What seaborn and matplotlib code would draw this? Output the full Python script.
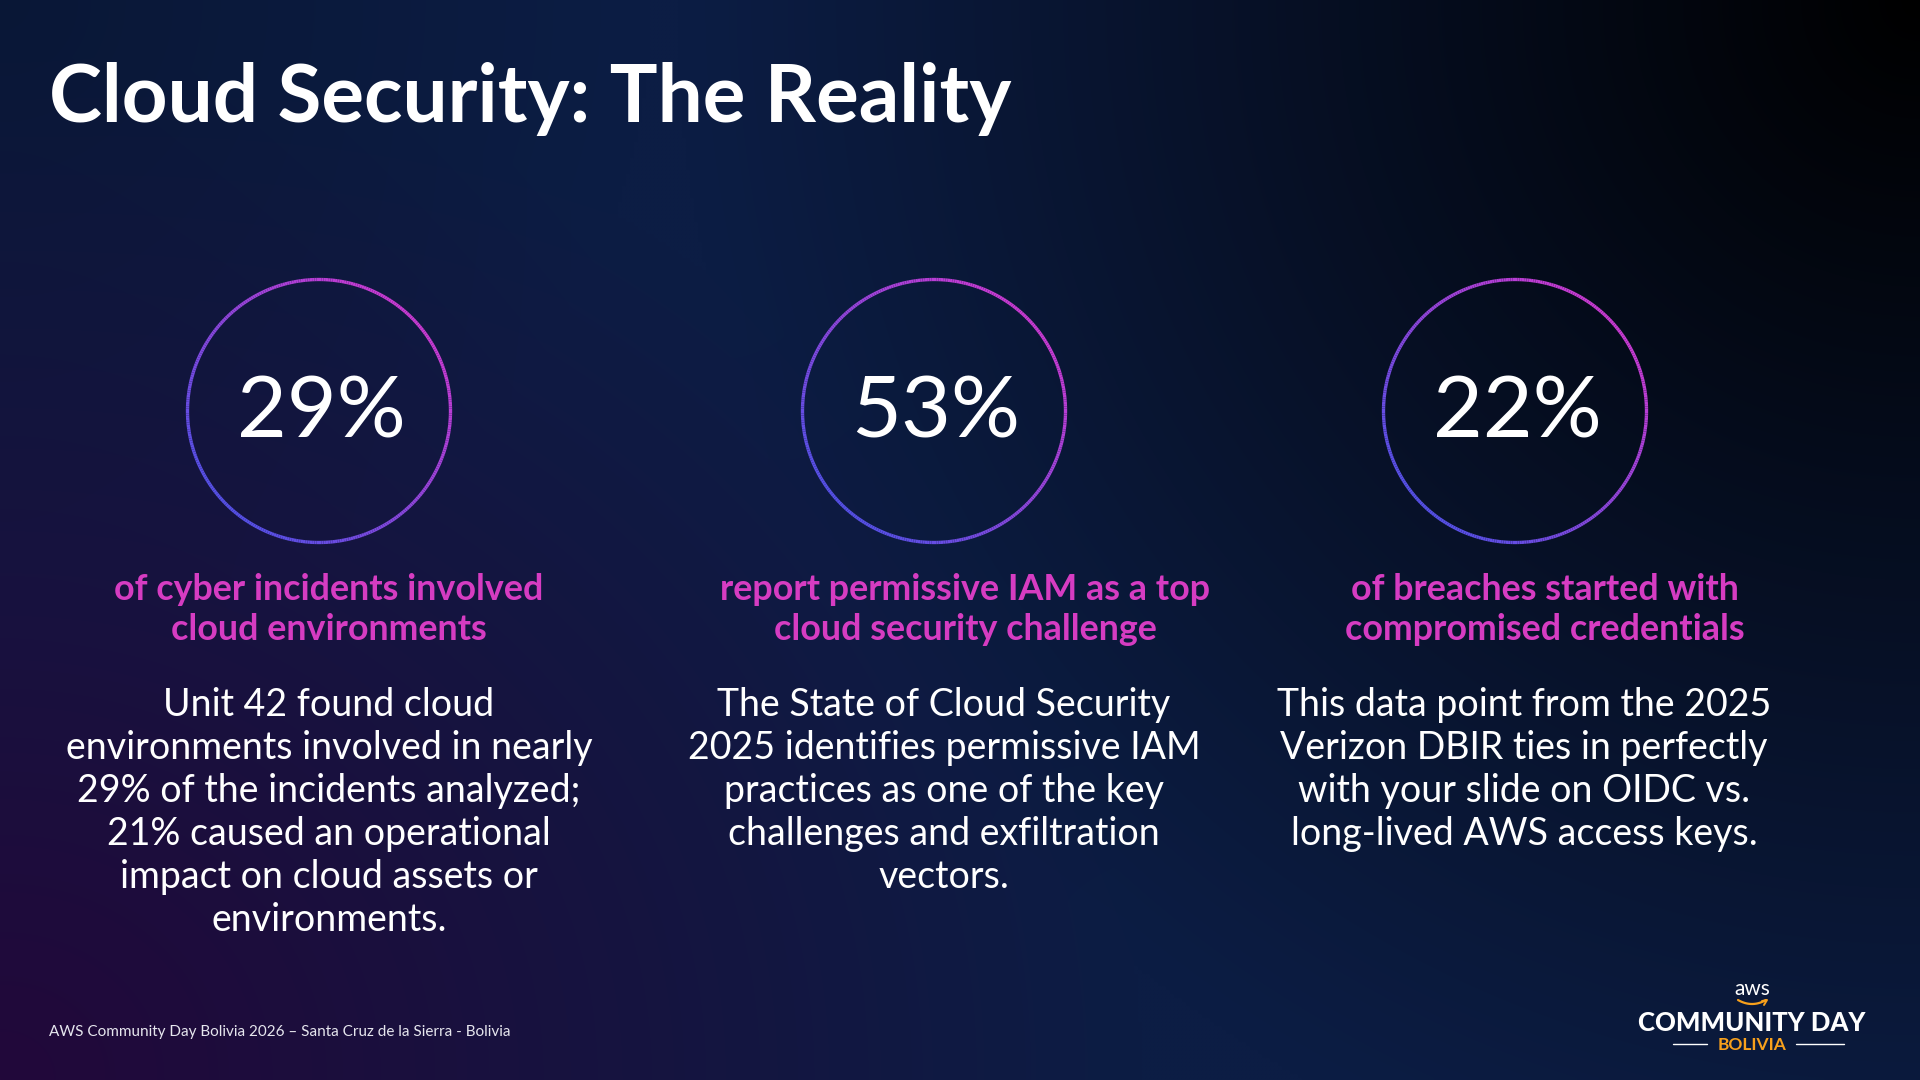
import numpy as np
import pandas as pd
import matplotlib
matplotlib.use("Agg")
import matplotlib.pyplot as plt
from matplotlib.collections import LineCollection
import seaborn as sns

# slide content
title = "Cloud Security: The Reality"
stat_values = [29, 53, 22]
stat_labels = [
    ["of cyber incidents involved", "cloud environments"],
    ["report permissive IAM as a top", "cloud security challenge"],
    ["of breaches started with", "compromised credentials"],
]
stat_bodies = [
    ["Unit 42 found cloud", "environments involved in nearly", "29% of the incidents analyzed;",
     "21% caused an operational", "impact on cloud assets or", "environments."],
    ["The State of Cloud Security", "2025 identifies permissive IAM", "practices as one of the key",
     "challenges and exfiltration", "vectors."],
    ["This data point from the 2025", "Verizon DBIR ties in perfectly", "with your slide on OIDC vs.",
     "long-lived AWS access keys."],
]
footer = "AWS Community Day Bolivia 2026 \u2013 Santa Cruz de la Sierra - Bolivia"

W, H = 1920, 1080
PINK = "#d63cc2"
ORANGE = "#f7a01c"

sns.set_theme(style="white")
plt.rcParams["font.family"] = ["Lato", "DejaVu Sans"]

fig = plt.figure(figsize=(19.2, 10.8), dpi=100)
ax = fig.add_axes([0, 0, 1, 1])
ax.set_xlim(0, W)
ax.set_ylim(H, 0)
ax.axis("off")

# background: navy, fading to black at top right, purple at bottom left
xx = np.linspace(0, W / H, 480)[None, :]
yy = np.linspace(0, 1, 270)[:, None]
navy = np.array([12, 29, 68]) / 255
purple = np.array([34, 8, 58]) / 255
d_tr = np.hypot(xx - W / H, yy)
w_black = np.clip(1 - d_tr / 1.15, 0, 1) ** 1.1
d_bl = np.hypot(xx * 0.9, yy - 1)
w_purple = np.clip(1 - d_bl / 0.95, 0, 1) ** 1.0
d_tl = np.hypot(xx, yy)
w_dim = np.clip(1 - d_tl / 0.6, 0, 1) * 0.2
bg = navy * np.clip(1 - w_black - w_dim, 0, 1)[..., None]
bg = bg * (1 - w_purple[..., None]) + purple * w_purple[..., None]
bg = np.clip(bg, 0, 1)
ax.imshow(bg, extent=(0, W, H, 0), aspect="auto", zorder=0, interpolation="bilinear")

ax.text(49, 122, title, color="white", fontsize=57.5, fontweight="bold", va="baseline", ha="left")

df = pd.DataFrame({
    "value": stat_values,
    "cx": [319, 934, 1515],
    "tx": [329, 965, 1545],
    "bx": [329, 944, 1524],
})

c_blue = np.array(matplotlib.colors.to_rgb("#5650e6"))
c_mag = np.array(matplotlib.colors.to_rgb("#c93bd2"))
R, CY = 131.5, 411
theta = np.linspace(0, 2 * np.pi, 361)

for _, row in df.iterrows():
    xs = row.cx + R * np.cos(theta)
    ys = CY - R * np.sin(theta)
    pts = np.column_stack([xs, ys]).reshape(-1, 1, 2)
    segs = np.concatenate([pts[:-1], pts[1:]], axis=1)
    t = (np.cos(theta[:-1] - np.pi / 4) + 1) / 2
    cols = c_blue[None, :] * (1 - t[:, None]) + c_mag[None, :] * t[:, None]
    ax.add_collection(LineCollection(segs, colors=cols, linewidths=2.4, zorder=2))
    ax.text(row.cx + 2, 438, f"{row.value}%", color="white", fontsize=62,
            ha="center", va="baseline", zorder=3)

for i, row in df.iterrows():
    for j, line in enumerate(stat_labels[i]):
        ax.text(row.tx, 600 + j * 39.5, line, color=PINK, fontsize=25.8,
                fontweight="bold", ha="center", va="baseline")
    for j, line in enumerate(stat_bodies[i]):
        ax.text(row.bx, 716 + j * 43, line, color="white", fontsize=27,
                ha="center", va="baseline")

ax.text(49, 1036, footer, color="#e6e6ee", fontsize=11, ha="left", va="baseline")

# community day logo
LX = 1752
ax.text(LX, 995, "aws", color="white", fontsize=15, ha="center", va="baseline")
sx = np.linspace(1738, 1766, 30)
ax.plot(sx, 1000 + 4 * (1 - ((sx - 1752) / 14) ** 2), color=ORANGE, lw=1.6)
ax.plot([1762, 1767, 1764], [1001, 1000, 1005], color=ORANGE, lw=1.4)
ax.text(LX, 1031, "COMMUNITY DAY", color="white", fontsize=18.5, fontweight="black",
        ha="center", va="baseline")
ax.text(LX, 1050, "BOLIVIA", color=ORANGE, fontsize=12.5, fontweight="bold",
        ha="center", va="baseline")
ax.plot([1673, 1707], [1044, 1044], color="white", lw=1)
ax.plot([1796, 1844], [1044, 1044], color="white", lw=1)

fig.savefig("out.png", dpi=100)
